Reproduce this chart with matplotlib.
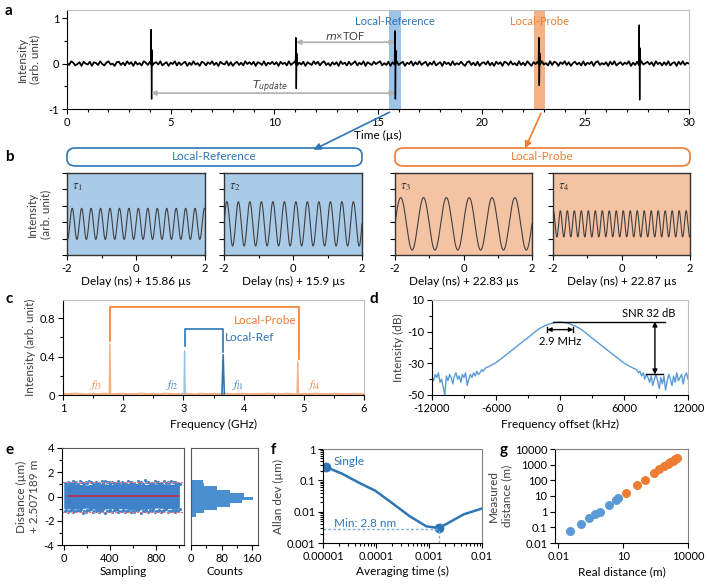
import numpy as np
import matplotlib
matplotlib.use("Agg")
import matplotlib.pyplot as plt
from matplotlib.patches import FancyBboxPatch, FancyArrowPatch
from matplotlib.ticker import FixedLocator, FixedFormatter, NullFormatter, LogLocator

plt.rcParams['font.family'] = ['Lato', 'DejaVu Sans']
plt.rcParams['font.size'] = 8
plt.rcParams['axes.linewidth'] = 0.8
plt.rcParams['axes.unicode_minus'] = False

BLUE = '#2e75b6'
LBLUE = '#5b9bd5'
ORANGE = '#ed7d31'

# ---------------- data ----------------
# panel a
a_time_step = 0.1
a_noise = [
0.01,-0.03,0.05,0.02,-0.04,-0.01,0.03,-0.05,0.04,0.00,
-0.02,0.04,-0.05,0.03,0.01,-0.03,0.05,-0.01,-0.04,0.02,
0.05,-0.02,0.00,-0.05,0.03,0.04,-0.03,0.02,-0.04,0.05,
-0.01,0.03,-0.05,0.04,-0.02,0.01,-0.04,0.05,0.02,-0.03,
0.04,-0.05,0.01,0.03,-0.02,0.05,-0.04,0.00,0.03,-0.05,
0.02,-0.01,0.05,-0.04,0.03,-0.03,0.01,0.04,-0.05,0.02,
-0.03,0.05,-0.02,0.01,-0.05,0.04,0.02,-0.04,0.03,-0.01,
0.05,-0.03,0.02,-0.05,0.04,0.00,-0.02,0.05,-0.04,0.03,
-0.05,0.01,0.04,-0.03,0.02,-0.04,0.05,-0.01,0.03,-0.02,
0.04,-0.05,0.03,0.01,-0.03,0.05,-0.04,0.02,-0.01,0.04,
-0.02,0.03,-0.05,0.04,-0.01,0.02,-0.04,0.05,-0.03,0.01,
0.05,-0.04,0.02,-0.02,0.04,-0.05,0.03,0.00,-0.03,0.05,
-0.01,0.04,-0.04,0.02,0.05,-0.03,0.01,-0.05,0.03,-0.02,
0.03,-0.05,0.05,-0.01,0.02,-0.04,0.04,-0.03,0.01,0.05,
-0.04,0.02,-0.02,0.05,-0.05,0.03,0.00,-0.03,0.04,-0.01,
0.02,0.05,-0.04,0.01,-0.03,0.04,-0.05,0.03,-0.02,0.05,
-0.03,0.01,0.04,-0.05,0.02,-0.01,0.05,-0.04,0.03,-0.02,
0.05,-0.03,0.01,0.04,-0.05,0.02,-0.02,0.05,-0.04,0.00,
0.03,-0.05,0.04,-0.01,0.02,-0.04,0.05,-0.03,0.01,-0.02,
0.04,-0.01,-0.05,0.03,0.05,-0.03,0.02,-0.04,0.04,-0.05,
0.01,0.03,-0.02,0.05,-0.04,0.02,-0.05,0.04,-0.01,0.03,
-0.05,0.04,0.02,-0.03,0.05,-0.02,0.01,-0.04,0.05,-0.03,
0.02,-0.04,0.05,0.00,-0.05,0.03,-0.01,0.04,-0.03,0.05,
-0.02,0.01,-0.04,0.05,-0.03,0.04,0.02,-0.05,0.03,-0.01,
0.05,-0.03,0.03,-0.05,0.01,0.04,-0.02,0.02,-0.04,0.05,
-0.04,0.02,-0.01,0.04,-0.05,0.03,0.05,-0.03,0.01,-0.02,
0.03,-0.05,0.04,-0.02,0.05,-0.04,0.00,0.03,-0.03,0.02,
-0.01,0.05,-0.05,0.02,-0.03,0.04,-0.04,0.05,-0.02,0.01,
0.04,-0.02,0.03,-0.05,0.05,-0.01,0.02,-0.04,0.03,-0.03,
0.05,-0.04,0.01,0.03,-0.05,0.04,-0.02,0.05,-0.03,0.02,
0.0]
a_spike_t = [4.06, 11.04, 15.82, 22.76, 27.6]
a_spike_up = [0.75, 0.57, 0.72, 0.57, 0.85]
a_spike_dn = [-0.78, -0.55, -0.78, -0.48, -0.80]
a_ref_span = (15.53, 16.10)
a_probe_span = (22.50, 23.07)

# panel b
b_cycles = [14.6, 12.0, 6.0, 19.6]      # cycles within the 4 ns window
b_amp = [0.19, 0.27, 0.32, 0.16]
b_mid = [0.38, 0.38, 0.38, 0.38]
b_tau = [r'$\tau_1$', r'$\tau_2$', r'$\tau_3$', r'$\tau_4$']
b_xlabel = ['Delay (ns) + 15.86 µs', 'Delay (ns) + 15.9 µs',
            'Delay (ns) + 22.83 µs', 'Delay (ns) + 22.87 µs']

# panel c
c_base = [0.012,0.008,0.015,0.010,0.006,0.013,0.009,0.014,0.007,0.011,
          0.013,0.008,0.010,0.015,0.009,0.012,0.007,0.014,0.010,0.008,
          0.013,0.011,0.006,0.014,0.009,0.012,0.010,0.015,0.008,0.011,
          0.013,0.007,0.012,0.009,0.014,0.010,0.008,0.013,0.011,0.006,
          0.012,0.009,0.014,0.010,0.007,0.013,0.011,0.008,0.012,0.010,0.009]
c_probe_f = [1.78, 4.90]
c_probe_h = [0.53, 0.35]
c_ref_f = [3.02, 3.66]
c_ref_h = [0.46, 0.42]

# panel d
d_left_y = [-38,-41,-37,-39,-36,-42,-40,-45,-50,-38,-41,-37,-39,-43,-38,-36,-40,
            -38,-42,-37,-39,-36,-44,-40,-37,-39,-36,-38,-35,-37,-36,-34,-35]
d_mid_x = [-7000,-6500,-6000,-5500,-5000,-4500,-4000,-3500,-3000,-2500,-2000,-1500,
           -1000,-500,0,500,1000,1500,2000,2500,3000,3500,4000,4500,5000,5500,6000,6500,7000]
d_mid_y = [-33,-31.5,-29.6,-27,-24.3,-21.7,-19,-16.3,-13.8,-11,-8.3,-6.5,-5.2,-4.2,-3.9,
           -4.3,-5.3,-6.7,-8.6,-11.2,-14,-16.6,-19.3,-22,-24.6,-27.2,-29.8,-31.8,-33.5]
d_right_y = [-34,-36,-35,-38,-36,-40,-37,-39,-42,-38,-44,-40,-37,-41,-46,-39,-43,
             -38,-47,-41,-37,-40,-44,-38,-42,-36,-41,-39,-37,-43,-38,-36,-40]

# panel e
e_band_x = [0, 100, 200, 300, 400, 500, 600, 700, 800, 900, 1000]
e_band_hi = [1.0, 1.05, 0.95, 1.1, 1.0, 1.05, 1.1, 1.0, 1.05, 1.0, 1.05]
e_band_lo = [-1.0, -1.05, -0.95, -1.1, -1.0, -1.0, -1.1, -1.05, -0.95, -1.0, -1.05]
e_pts_x = [10,35,60,80,110,140,165,190,220,250,280,305,330,360,390,420,445,470,
           500,530,560,585,610,640,670,700,730,760,790,815,840,870,900,930,960,990]
e_pts_hi = [1.15,1.2,1.1,1.25,1.18,1.3,1.12,1.22,1.28,1.15,1.2,1.1,1.25,1.3,1.18,1.22,1.12,1.27,
            1.2,1.15,1.3,1.22,1.1,1.25,1.18,1.32,1.2,1.15,1.28,1.22,1.12,1.25,1.2,1.3,1.18,1.15]
e_pts_lo = [-1.2,-1.28,-1.15,-1.3,-1.22,-1.18,-1.32,-1.25,-1.15,-1.3,-1.2,-1.27,-1.18,-1.33,-1.2,-1.25,-1.15,-1.3,
            -1.22,-1.28,-1.18,-1.3,-1.24,-1.15,-1.32,-1.2,-1.26,-1.18,-1.3,-1.22,-1.28,-1.15,-1.3,-1.2,-1.25,-1.18]
e_mean = 0.05
e_bounds = [1.18, -1.25]
e_hist_edges = [-1.68, -1.40, -1.12, -0.84, -0.56, -0.28, 0.0, 0.28, 0.56, 0.84, 1.12, 1.40]
e_hist_counts = [13, 35, 67, 102, 133, 162, 138, 102, 67, 35, 31]

# panel f
f_tau = [1.16e-5, 2.24e-5, 4.7e-5, 9.8e-5, 2.0e-4, 4.3e-4, 8.9e-4, 1.55e-3, 2.5e-3, 4.5e-3, 1e-2]
f_adev = [0.26, 0.166, 0.085, 0.046, 0.019, 0.0072, 0.0034, 0.0030, 0.0047, 0.0082, 0.0126]
f_min = 0.0028

# panel g
g_blue_x = [0.036, 0.107, 0.26, 0.51, 0.87, 2.2, 4.5, 5.8]
g_blue_y = [0.055, 0.16, 0.39, 0.69, 1.02, 2.7, 5.6, 7.9]
g_orange_x = [13.5, 43, 100, 265, 455, 800, 1130, 1500, 1950, 2500, 3100]
g_orange_y = [15, 50, 107, 280, 500, 830, 1050, 1400, 1700, 2200, 2600]

# ---------------- figure ----------------
W, H = 709, 587
fig = plt.figure(figsize=(W/100, H/100), dpi=100)

def ax_px(l, t, r, b):
    return fig.add_axes([l/W, 1-b/H, (r-l)/W, (b-t)/H])

def style(ax, frame='#bfbfbf'):
    for s in ['top', 'right']:
        ax.spines[s].set_color(frame)
    for s in ['left', 'bottom']:
        ax.spines[s].set_color('black')
    ax.tick_params(which='both', direction='out', width=0.8, labelsize=8, pad=2)
    ax.tick_params(which='major', length=3.5)
    ax.tick_params(which='minor', length=2.5)

def letter(x, y, s):
    fig.text(x/W, 1-y/H, s, fontsize=11, fontweight='bold', va='top', ha='left')

# ---- panel a ----
ax = ax_px(67, 10, 689, 109)
style(ax)
t = np.arange(len(a_noise)) * a_time_step
ax.axvspan(*a_ref_span, color='#9dc3e6', lw=0)
ax.axvspan(*a_probe_span, color='#f4b183', lw=0)
ax.plot(t, a_noise, color='black', lw=1.3)
for ts, up, dn in zip(a_spike_t, a_spike_up, a_spike_dn):
    ax.plot([ts-0.02, ts, ts+0.02, ts+0.04, ts+0.06], [0, up, dn, up*0.4, 0], color='black', lw=1.0)
ax.set_xlim(0, 30)
ax.set_ylim(-1, 1.18)
ax.set_xticks([0, 5, 10, 15, 20, 25, 30])
ax.set_xticks(np.arange(0, 31, 1), minor=True)
ax.set_yticks([-1, 0, 1])
ax.set_yticks([-0.5, 0.5], minor=True)
ax.set_xlabel('Time (µs)', fontsize=8.5, labelpad=2)
ax.set_ylabel('Intensity\n(arb. unit)', fontsize=8.5, color='#404040', labelpad=6)
ax.annotate('', xy=(a_spike_t[1], 0.47), xytext=(a_spike_t[2], 0.47),
            arrowprops=dict(arrowstyle='<|-|>', color='#b0b0b0', lw=1.2, mutation_scale=7, shrinkA=0, shrinkB=0))
ax.annotate('', xy=(a_spike_t[0], -0.65), xytext=(a_spike_t[2], -0.65),
            arrowprops=dict(arrowstyle='<|-|>', color='#b0b0b0', lw=1.2, mutation_scale=7, shrinkA=0, shrinkB=0))
ax.text(13.4, 0.6, r'$m$×TOF', ha='center', va='center', fontsize=8, color='#404040')
ax.text(9.8, -0.52, r'$T_{update}$', ha='center', va='center', fontsize=8, color='#404040')
ax.text(15.8, 0.93, 'Local-Reference', ha='center', va='center', fontsize=8, color=BLUE)
ax.text(22.8, 0.93, 'Local-Probe', ha='center', va='center', fontsize=8, color=ORANGE)
letter(5, 4, 'a')

# ---- panel b ----
boxes = [(67, 362, 'Local-Reference', BLUE), (395, 690, 'Local-Probe', ORANGE)]
for l, r, txt, col in boxes:
    p = FancyBboxPatch((l/W, 1-166/H), (r-l)/W, 18/H, boxstyle='round,pad=0,rounding_size=0.012',
                       transform=fig.transFigure, facecolor='white', edgecolor=col, lw=1.2)
    fig.add_artist(p)
    fig.text((l+r)/2/W, 1-157/H, txt, ha='center', va='center', fontsize=8.5, color=col)

b_pos = [(67, 205), (224, 362), (395, 532), (553, 690)]
b_face = ['#a9cbe8', '#a9cbe8', '#f4c3a4', '#f4c3a4']
tt = np.linspace(-2, 2, 800)
for i in range(4):
    l, r = b_pos[i]
    ax = ax_px(l, 173, r, 255)
    ax.set_facecolor(b_face[i])
    for s in ax.spines.values():
        s.set_color('#333333')
        s.set_linewidth(1.0)
    ax.tick_params(which='both', direction='out', width=0.8, labelsize=8, pad=2)
    ax.tick_params(which='major', length=3.5)
    ax.tick_params(which='minor', length=2.5)
    y = b_mid[i] + b_amp[i] * np.sin(2*np.pi*(b_cycles[i]/4.0)*tt)
    ax.plot(tt, y, color='#404040', lw=0.8)
    ax.set_xlim(-2, 2)
    ax.set_ylim(0, 1)
    ax.set_xticks([-2, 0, 2])
    ax.set_xticks([-1, 1], minor=True)
    ax.set_yticks([0, 0.2, 0.4, 0.6, 0.8, 1.0])
    ax.set_yticklabels([])
    ax.text(-1.85, 0.83, b_tau[i], fontsize=9, math_fontfamily='stix', color='#333333', va='center')
    ax.set_xlabel(b_xlabel[i], fontsize=8.5, labelpad=2)
    if i == 0:
        ax.set_ylabel('Intensity\n(arb. unit)', fontsize=8.5, color='#404040', labelpad=6)
letter(5, 150, 'b')

# arrows from a to b
fig.add_artist(FancyArrowPatch((392/W, 1-111/H), (311/W, 1-151/H), transform=fig.transFigure,
                               arrowstyle='-|>', mutation_scale=10, color=BLUE, lw=1.2))
fig.add_artist(FancyArrowPatch((542/W, 1-111/H), (524/W, 1-151/H), transform=fig.transFigure,
                               arrowstyle='-|>', mutation_scale=10, color=ORANGE, lw=1.2))

# ---- panel c ----
ax = ax_px(63, 300, 364, 395)
style(ax)
cf = np.linspace(1, 6, len(c_base))
ax.plot(cf, c_base, color='#f4b183', lw=1.5)
for f, h in zip(c_probe_f, c_probe_h):
    ax.plot([f-0.012, f, f+0.012], [0.01, h, 0.01], color='#f4b183', lw=1.0)
ax.plot([c_ref_f[0]-0.01, c_ref_f[0], c_ref_f[0]+0.01], [0.01, c_ref_h[0], 0.01], color='#9dc3e6', lw=1.0)
ax.plot([c_ref_f[1]-0.02, c_ref_f[1], c_ref_f[1]+0.02], [0.01, c_ref_h[1], 0.01], color=BLUE, lw=1.2)
ax.plot([c_probe_f[0], c_probe_f[0], c_probe_f[1]+0.02, c_probe_f[1]+0.02],
        [c_probe_h[0]+0.03, 0.915, 0.915, c_probe_h[1]+0.02], color=ORANGE, lw=1.2)
ax.plot([c_ref_f[0], c_ref_f[0], c_ref_f[1], c_ref_f[1]],
        [c_ref_h[0]+0.05, 0.69, 0.69, c_ref_h[1]+0.03], color=BLUE, lw=1.2)
ax.text(4.36, 0.78, 'Local-Probe', ha='center', va='center', fontsize=8.5, color=ORANGE)
ax.text(4.1, 0.6, 'Local-Ref', ha='center', va='center', fontsize=8.5, color=BLUE)
ax.text(1.55, 0.1, r'$f_{l3}$', ha='center', va='center', fontsize=8, color=ORANGE, math_fontfamily='stix')
ax.text(2.82, 0.1, r'$f_{l2}$', ha='center', va='center', fontsize=8, color=BLUE, math_fontfamily='stix')
ax.text(3.9, 0.1, r'$f_{l1}$', ha='center', va='center', fontsize=8, color=BLUE, math_fontfamily='stix')
ax.text(5.17, 0.1, r'$f_{l4}$', ha='center', va='center', fontsize=8, color=ORANGE, math_fontfamily='stix')
ax.set_xlim(1, 6)
ax.set_ylim(0, 0.99)
ax.set_xticks([1, 2, 3, 4, 5, 6])
ax.set_xticks(np.arange(1, 6.01, 0.5), minor=True)
ax.set_yticks([0, 0.4, 0.8])
ax.set_yticklabels(['0', '0.4', '0.8'])
ax.set_yticks([0.2, 0.6], minor=True)
ax.set_xlabel('Frequency (GHz)', fontsize=8.5, labelpad=4)
ax.set_ylabel('Intensity (arb. unit)', fontsize=8.5, color='#404040', labelpad=3)
letter(5, 292, 'c')

# ---- panel d ----
ax = ax_px(432, 300, 688, 395)
style(ax)
dx = list(np.linspace(-12000, -7200, len(d_left_y))) + d_mid_x + list(np.linspace(7200, 12000, len(d_right_y)))
dy = d_left_y + d_mid_y + d_right_y
ax.plot(dx, dy, color=LBLUE, lw=1.0)
ax.set_xlim(-12000, 12000)
ax.set_ylim(-50, 10)
ax.set_xticks([-12000, -6000, 0, 6000, 12000])
ax.set_xticks([-9000, -3000, 3000, 9000], minor=True)
ax.set_yticks([-50, -30, -10, 10])
ax.set_yticks([-40, -20, 0], minor=True)
ax.plot([-700, 9800], [-3.6, -3.6], color='black', lw=1.0)
ax.plot([8100, 9700], [-37, -37], color='black', lw=1.0)
ax.annotate('', xy=(8900, -3.6), xytext=(8900, -37),
            arrowprops=dict(arrowstyle='<|-|>', color='black', lw=1.0, mutation_scale=7, shrinkA=0, shrinkB=0))
ax.annotate('', xy=(-1200, -8.7), xytext=(1250, -8.7),
            arrowprops=dict(arrowstyle='<|-|>', color='black', lw=1.0, mutation_scale=6, shrinkA=0, shrinkB=0))
ax.plot([-1200, -1200], [-7, -10.5], color='black', lw=1.0)
ax.plot([1250, 1250], [-7, -10.5], color='black', lw=1.0)
ax.text(0, -16.5, '2.9 MHz', ha='center', va='center', fontsize=8)
ax.text(8300, 1.5, 'SNR 32 dB', ha='center', va='center', fontsize=8)
ax.set_xlabel('Frequency offset (kHz)', fontsize=8.5, labelpad=4)
ax.set_ylabel('Intensity (dB)', fontsize=8.5, color='#404040', labelpad=2)
letter(370, 292, 'd')

# ---- panel e ----
ax = ax_px(62, 448, 184, 545)
style(ax, frame='#595959')
ESC = '#3f82c9'
ax.fill_between(e_band_x, e_band_lo, e_band_hi, color=ESC, lw=0)
ax.scatter(e_pts_x, e_pts_hi, s=5, color=ESC, lw=0)
ax.scatter([x + 12 for x in e_pts_x], [v - 0.12 for v in e_pts_hi], s=5, color=ESC, lw=0)
ax.scatter(e_pts_x, e_pts_lo, s=5, color=ESC, lw=0)
ax.scatter([x + 12 for x in e_pts_x], [v + 0.12 for v in e_pts_lo], s=5, color=ESC, lw=0)
for b in e_bounds:
    ax.axhline(b, color='#f08080', lw=0.9, ls=(0, (2, 1.5)))
ax.plot([40, 1000], [e_mean, e_mean], color='#c0304a', lw=1.2)
ax.set_xlim(-15, 1040)
ax.set_ylim(-4, 4)
ax.set_xticks([0, 400, 800])
ax.set_xticks([200, 600, 1000], minor=True)
ax.set_yticks([-4, -2, 0, 2, 4])
ax.set_yticks([-3, -1, 1, 3], minor=True)
ax.set_xlabel('Sampling', fontsize=8.5, labelpad=2)
ax.set_ylabel('Distance (µm)\n+ 2.507189 m', fontsize=8.5, color='#404040', labelpad=3)

ax2 = ax_px(191, 448, 258, 545)
style(ax2, frame='#595959')
ax2.spines['left'].set_color('#595959')
edges = e_hist_edges
ax2.barh(edges[:-1], e_hist_counts, height=np.diff(edges), align='edge', color='#4a8fd0', lw=0)
ax2.set_xlim(0, 175)
ax2.set_ylim(-4, 4)
ax2.set_yticks([])
ax2.set_xticks([0, 80, 160])
ax2.set_xticks([40, 120], minor=True)
ax2.set_xlabel('Counts', fontsize=8.5, labelpad=2)
letter(5, 443, 'e')

# ---- panel f ----
ax = ax_px(323, 449, 482, 543)
style(ax, frame='#808080')
ax.set_xscale('log')
ax.set_yscale('log')
ax.plot(f_tau, f_adev, color=BLUE, lw=1.8)
ax.plot([f_tau[0]], [f_adev[0]], 'o', color=BLUE, ms=6)
ax.plot([f_tau[7]], [f_adev[7]], 'o', color=BLUE, ms=6)
ax.plot([1e-5, f_tau[7]], [f_min, f_min], color='#7fb0e0', lw=1.0, ls=(0, (2, 1.5)))
ax.plot([f_tau[7], f_tau[7]], [1e-3, f_min], color='#7fb0e0', lw=1.0, ls=(0, (2, 1.5)))
ax.text(1.6e-5, 0.4, 'Single', fontsize=8.5, color=BLUE, va='center')
ax.text(1.6e-5, 0.0043, 'Min: 2.8 nm', fontsize=8.5, color=BLUE, va='center')
ax.set_xlim(1e-5, 1e-2)
ax.set_ylim(1e-3, 1)
ax.xaxis.set_major_locator(FixedLocator([1e-5, 1e-4, 1e-3, 1e-2]))
ax.xaxis.set_major_formatter(FixedFormatter(['0.00001', '0.0001', '0.001', '0.01']))
ax.yaxis.set_major_locator(FixedLocator([1e-3, 1e-2, 1e-1, 1]))
ax.yaxis.set_major_formatter(FixedFormatter(['0.001', '0.01', '0.1', '1']))
ax.xaxis.set_minor_locator(LogLocator(base=10, subs=np.arange(2, 10)))
ax.yaxis.set_minor_locator(LogLocator(base=10, subs=np.arange(2, 10)))
ax.xaxis.set_minor_formatter(NullFormatter())
ax.yaxis.set_minor_formatter(NullFormatter())
ax.set_xlabel('Averaging time (s)', fontsize=8.5, labelpad=3)
ax.set_ylabel('Allan dev (µm)', fontsize=8.5, color='#404040', labelpad=2)
letter(271, 443, 'f')

# ---- panel g ----
ax = ax_px(555, 449, 688, 543)
style(ax, frame='#808080')
ax.set_xscale('log')
ax.set_yscale('log')
ax.plot(g_blue_x, g_blue_y, 'o', color=LBLUE, ms=6.5, mew=0)
ax.plot(g_orange_x, g_orange_y, 'o', color=ORANGE, ms=6.5, mew=0)
ax.set_xlim(0.007, 10000)
ax.set_ylim(0.01, 10000)
ax.xaxis.set_major_locator(FixedLocator([0.01, 10, 10000]))
ax.xaxis.set_major_formatter(FixedFormatter(['0.01', '10', '10000']))
ax.yaxis.set_major_locator(FixedLocator([0.01, 0.1, 1, 10, 100, 1000, 10000]))
ax.yaxis.set_major_formatter(FixedFormatter(['0.01', '0.1', '1', '10', '100', '1000', '10000']))
ax.xaxis.set_minor_locator(LogLocator(base=10, subs=np.arange(1, 10)))
ax.xaxis.set_minor_formatter(NullFormatter())
ax.yaxis.set_minor_locator(FixedLocator([]))
ax.set_xlabel('Real distance (m)', fontsize=8.5, labelpad=3)
ax.set_ylabel('Measured\ndistance (m)', fontsize=8.5, color='#404040', labelpad=2)
letter(500, 443, 'g')

fig.savefig('out.png', dpi=100)
